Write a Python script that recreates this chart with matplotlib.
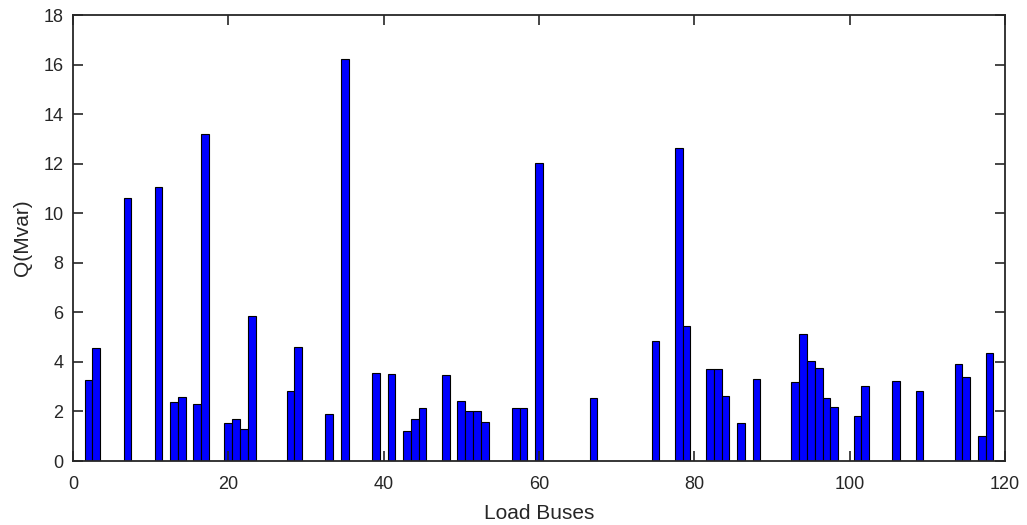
import numpy as np
import matplotlib.pyplot as plt

plt.rcParams['font.family'] = ['Liberation Sans', 'DejaVu Sans']

buses = [2, 3, 7, 11, 13, 14, 16, 17, 20, 21, 22, 23, 28, 29, 33, 35, 39, 41,
         43, 44, 45, 48, 50, 51, 52, 53, 57, 58, 60, 67, 75, 78, 79, 82, 83, 84,
         86, 88, 93, 94, 95, 96, 97, 98, 101, 102, 106, 109, 114, 115, 117, 118]
q_mvar = [3.26, 4.55, 10.60, 11.05, 2.39, 2.60, 2.31, 13.20, 1.52, 1.69, 1.28, 5.86,
          2.82, 4.61, 1.91, 16.21, 3.54, 3.51, 1.21, 1.71, 2.13, 3.48, 2.42, 2.02,
          2.02, 1.57, 2.12, 2.12, 12.01, 2.53, 4.86, 12.62, 5.45, 3.71, 3.71, 2.61,
          1.52, 3.32, 3.17, 5.14, 4.05, 3.77, 2.54, 2.18, 1.83, 3.01, 3.23, 2.82,
          3.93, 3.38, 1.02, 4.37]

fig = plt.figure(figsize=(10.27, 5.25), dpi=100)
ax = fig.add_axes([0.0711, 0.1219, 0.9075, 0.8495])
ax.bar(buses, q_mvar, width=1.0, color='#0000ff', edgecolor='black', linewidth=0.8)

ax.set_xlim(0, 120)
ax.set_ylim(0, 18)
ax.set_xticks(np.arange(0, 121, 20))
ax.set_yticks(np.arange(0, 19, 2))
ax.tick_params(direction='in', top=True, right=True, length=7, width=1.2,
               labelsize=13, colors='#262626')
ax.tick_params(axis='x', pad=11)
ax.tick_params(axis='y', pad=7)
for s in ax.spines.values():
    s.set_linewidth(1.3)
    s.set_color('#262626')
ax.set_xlabel('Load Buses', fontsize=15, color='#262626', labelpad=8)
ax.set_ylabel('Q(Mvar)', fontsize=15, color='#262626', labelpad=8)

fig.savefig('out.png', dpi=100)
